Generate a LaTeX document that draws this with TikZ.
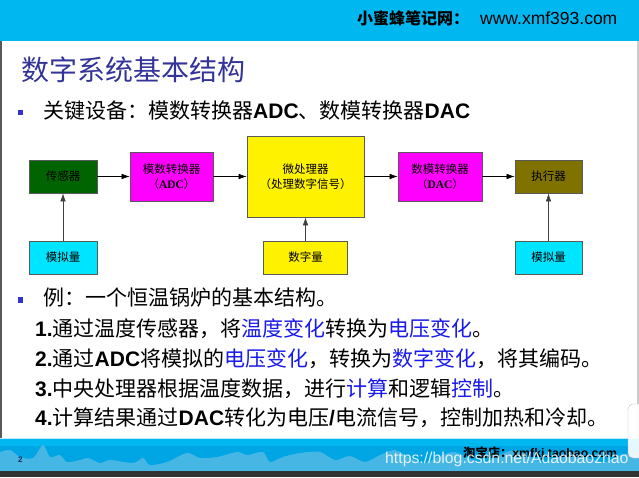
\documentclass[tikz,border=0pt]{standalone}
\usepackage{fontspec}
\setmainfont{Liberation Sans}
\newfontfamily\cjk{Noto Sans CJK SC}
\newfontfamily\serifb{Liberation Serif}
\usetikzlibrary{arrows.meta}
\definecolor{banner}{RGB}{0,183,240}
\definecolor{bandblue}{RGB}{0,165,228}
\definecolor{wave}{RGB}{70,182,228}
\definecolor{titleblue}{RGB}{51,51,153}
\definecolor{bulletblue}{RGB}{51,51,204}
\definecolor{hl}{RGB}{25,25,235}
\definecolor{sensorgreen}{RGB}{0,100,0}
\definecolor{mag}{RGB}{255,0,255}
\definecolor{yel}{RGB}{255,242,0}
\definecolor{olivebox}{RGB}{128,114,0}
\definecolor{cyanbox}{RGB}{0,229,255}
\begin{document}
\begin{tikzpicture}[x=1pt,y=-1pt,
  blk/.style={draw=black!65, line width=0.7pt, inner sep=0pt, align=center,
    font=\cjk\fontsize{11.5}{15}\selectfont},
  arr/.style={-{Latex[length=8pt,width=5.5pt]}, line width=0.6pt, black},
  varr/.style={arr, black!75},
  bsq/.style={fill=bulletblue, minimum size=5.5pt, inner sep=0pt},
  txt/.style={anchor=base west, inner sep=0pt, font=\fontsize{21}{21}\selectfont},
  hdr/.style={anchor=base west, inner sep=0pt}]
\useasboundingbox (0,0) rectangle (639,477);
\begin{scope}
\clip (0,0) rectangle (639,477);
\fill[white] (0,0) rectangle (639,477);
\fill[banner] (0,0) rectangle (639,41);
\fill[black!65] (0,41) rectangle (1.5,471);
\fill[black!20] (637,41) rectangle (639,471);

% header and title
\node[hdr] (hdr) at (357,24) {{\cjk\bfseries\fontsize{16}{16}\selectfont 小蜜蜂笔记网：}\hspace{11pt}{\fontsize{17.5}{17.5}\selectfont www.xmf393.com}};
\node[hdr, text=titleblue, font=\cjk\fontsize{28}{28}\selectfont] (title) at (21,80) {数字系统基本结构};

% bullet 1
\node[bsq] (s1) at (20.5,112.5) {};
\node[txt] (b1) at (43,118.5) {{\cjk 关键设备：模数转换器}\textbf{ADC}{\cjk 、数模转换器}\textbf{DAC}};

% diagram
\node[blk, fill=sensorgreen, minimum width=68pt, minimum height=33pt] (sensor) at (63,176.5) {传感器};
\node[blk, fill=mag, minimum width=83pt, minimum height=49pt] (adc) at (171.5,176.5) {模数转换器\\（{\serifb\bfseries ADC}）};
\node[blk, fill=yel, minimum width=117pt, minimum height=81pt] (mp) at (305.5,176.5) {微处理器\\（处理数字信号）};
\node[blk, fill=mag, minimum width=84pt, minimum height=49pt] (dac) at (440,176.5) {数模转换器\\（{\serifb\bfseries DAC}）};
\node[blk, fill=olivebox, minimum width=67pt, minimum height=33pt] (act) at (548.5,176.5) {执行器};
\node[blk, fill=cyanbox, minimum width=68pt, minimum height=33pt] (anL) at (63,257.5) {模拟量};
\node[blk, fill=yel, minimum width=84pt, minimum height=33pt] (dig) at (305.5,257.5) {数字量};
\node[blk, fill=cyanbox, minimum width=67pt, minimum height=33pt] (anR) at (548.5,257.5) {模拟量};

\draw[arr] (sensor.east) -- (adc.west);
\draw[arr] (adc.east) -- (mp.west);
\draw[arr] (mp.east) -- (dac.west);
\draw[arr] (dac.east) -- (act.west);
\draw[varr] (anL.north) -- (sensor.south);
\draw[varr] (dig.north) -- (mp.south);
\draw[varr] (anR.north) -- (act.south);

% bullet 2 and items
\node[bsq] (s2) at (20.5,300) {};
\node[txt] (b2) at (43,305) {\cjk 例：一个恒温锅炉的基本结构。};
\node[txt] (i1) at (35,336) {\textbf{1.}{\cjk 通过温度传感器，将\textcolor{hl}{温度变化}转换为\textcolor{hl}{电压变化}。}};
\node[txt] (i2) at (35,366) {\textbf{2.}{\cjk 通过}\textbf{ADC}{\cjk 将模拟的\textcolor{hl}{电压变化}，转换为\textcolor{hl}{数字变化}，将其编码。}};
\node[txt] (i3) at (35,396) {\textbf{3.}{\cjk 中央处理器根据温度数据，进行\textcolor{hl}{计算}和逻辑\textcolor{hl}{控制}。}};
\node[txt] (i4) at (35,425) {\textbf{4.}{\cjk 计算结果通过}\textbf{DAC}{\cjk 转化为电压}\textbf{/}{\cjk 电流信号，控制加热和冷却。}};

% bottom band
\fill[bandblue] (0,438) rectangle (639,471);
\fill[banner] (0,438) rectangle (639,446);
\fill[wave] (0,471) -- plot[smooth] coordinates {(0,452) (10,450) (20,457) (33,458) (43,445) (50,457) (60,455) (67,462) (80,460) (88,458) (100,463) (110,460) (133,463) (143,458) (150,465) (167,462) (187,453) (200,458) (217,457) (237,452) (247,455) (263,452) (270,462) (283,457) (300,453) (320,452) (335,460) (350,456) (365,462) (380,455) (395,450) (410,458) (425,463) (440,456) (455,452) (470,459) (485,462) (500,455) (515,450) (530,457) (545,463) (560,456) (575,452) (590,459) (605,462) (620,455) (639,453)} -- (639,471) -- cycle;
\draw[cyan!25, line width=0.8pt] (0,438.4) -- (639,438.4);
\fill[black!80] (0,471) rectangle (639,477);
\node[hdr, text={rgb,255:red,20;green,40;blue,90}, font=\bfseries\fontsize{8}{8}\selectfont] (pg) at (18,462) {2};
\node[hdr, font=\bfseries\fontsize{12.3}{12.3}\selectfont] (shop) at (463,457) {{\cjk 淘宝店：}xmfkj.taobao.com};
\node[hdr, text=white, opacity=0.85, font=\fontsize{15.8}{16}\selectfont] (wm) at (385,463) {https://blog.csdn.net/Adaobaozhao};
\draw[black!25, fill=white, fill opacity=0.9, rounded corners=5pt] (628,404) rectangle (648,458);
\end{scope}
\end{tikzpicture}
\end{document}
